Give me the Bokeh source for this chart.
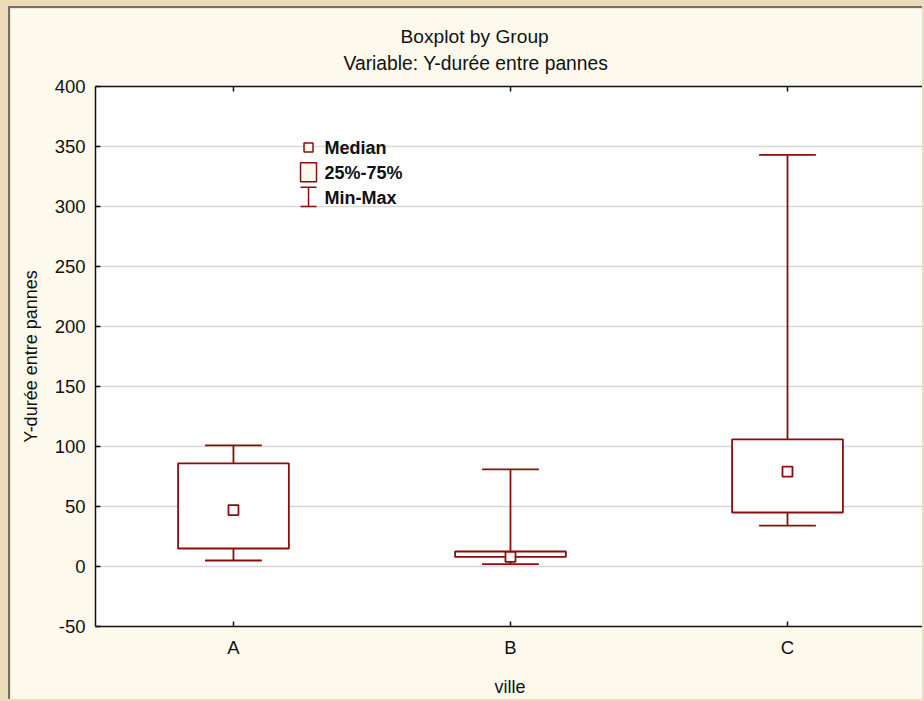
from bokeh.plotting import figure
from bokeh.models import Range1d, LinearAxis, FixedTicker, Title, GlobalInlineStyleSheet
from bokeh.core.properties import value
from bokeh.embed import file_html
from bokeh.resources import INLINE

# ---- data ----
groups = ["A", "B", "C"]
mins = [5, 2, 34]
q1s = [15, 8, 45]
medians = [47, 8, 79]
q3s = [86, 12.5, 106]
maxs = [101, 81, 343]
y_ticks = [-50, 0, 50, 100, 150, 200, 250, 300, 350, 400]
legend_labels = ["Median", "25%-75%", "Min-Max"]
title_text = "Boxplot by Group"
subtitle_text = "Variable: Y-durée entre pannes"

RED = "#8b0d0d"
CREAM = "#fdf9ec"
FONT = "Liberation Sans"

xpos = list(range(len(groups)))

p = figure(width=914, height=693, output_backend="svg", toolbar_location=None,
           x_range=Range1d(-0.498, 2.4946), y_range=Range1d(-50, 400),
           min_border_left=85, min_border_top=78, min_border_bottom=75, min_border_right=0,
           border_fill_color=CREAM, background_fill_color="white",
           outline_line_color=None,
           title=title_text)
p.styles = {"margin-left": "8px", "margin-top": "6px",
            "border-left": "2px solid #707070", "border-top": "2px solid #707070"}
p.stylesheets = [GlobalInlineStyleSheet(css="body{background:#ecdcb8;}")]

p.title.text_font = FONT
p.title.text_font_size = "19.2px"
p.title.text_font_style = "normal"
p.title.align = "left"
p.title.offset = 305
p.title.text_color = "#111111"
p.title.standoff = -18

# axes
p.xaxis.ticker = FixedTicker(ticks=xpos)
p.xaxis.major_label_overrides = {i: g for i, g in enumerate(groups)}
p.yaxis.ticker = FixedTicker(ticks=y_ticks)
p.yaxis.major_label_overrides = {t: str(t) for t in y_ticks}
for ax in [p.xaxis[0], p.yaxis[0]]:
    ax.major_tick_in = 5
    ax.major_tick_out = 0
    ax.minor_tick_line_color = None
    ax.major_tick_line_width = 1.5
    ax.major_tick_line_color = "#111111"
    ax.axis_line_color = "#111111"
    ax.axis_line_width = 1.5
    ax.major_label_text_font = FONT
    ax.major_label_text_font_size = "18.5px"
    ax.major_label_text_color = "#111111"
    ax.axis_label_text_font = FONT
    ax.axis_label_text_font_size = "18px"
    ax.axis_label_text_font_style = "normal"
    ax.axis_label_text_color = "#111111"
    ax.major_label_standoff = 10
p.xaxis.axis_label = "ville"
p.yaxis.axis_label = "Y-durée entre pannes"
p.xaxis.axis_label_standoff = 16
p.yaxis.axis_label_standoff = 11

top = LinearAxis(ticker=FixedTicker(ticks=xpos), major_tick_in=5, major_tick_out=0,
                 minor_tick_line_color=None, major_label_text_font_size="1px",
                 major_label_text_color=None,
                 major_label_standoff=0, axis_line_color="#111111", axis_line_width=1.5,
                 major_tick_line_width=1.5, major_tick_line_color="#111111")
p.add_layout(top, "above")
p.add_layout(Title(text=subtitle_text, align="left", offset=248, text_font=FONT,
                   text_font_size="19.3px", text_font_style="normal", text_color="#111111",
                   standoff=26), "above")

p.xgrid.grid_line_color = None
p.ygrid.grid_line_color = "#d8d8d8"
p.ygrid.grid_line_width = 1.5

# boxes
bw = 0.4
cw = 0.205
p.quad(left=[x - bw / 2 for x in xpos], right=[x + bw / 2 for x in xpos],
       bottom=q1s, top=q3s, fill_color="white", line_color=RED, line_width=1.8)
p.segment(x0=xpos, y0=q3s, x1=xpos, y1=maxs, line_color=RED, line_width=1.8)
p.segment(x0=xpos, y0=q1s, x1=xpos, y1=mins, line_color=RED, line_width=1.8)
p.segment(x0=[x - cw / 2 for x in xpos], y0=maxs, x1=[x + cw / 2 for x in xpos], y1=maxs,
          line_color=RED, line_width=1.8)
p.segment(x0=[x - cw / 2 for x in xpos], y0=mins, x1=[x + cw / 2 for x in xpos], y1=mins,
          line_color=RED, line_width=1.8)
p.scatter(x=xpos, y=medians, marker="square", size=10, fill_color="white",
          line_color=RED, line_width=1.8)

# legend (drawn in data space)
lx = 0.271
lw = 16 / 277
p.scatter(x=[lx], y=[349.2], marker="square", size=9, fill_color=CREAM,
          line_color=RED, line_width=1.5)
p.rect(x=[lx], y=[328.6], width=lw, height=15.8, fill_color=CREAM, line_color=RED, line_width=1.5)
p.segment(x0=[lx, lx - lw / 2, lx - lw / 2], y0=[300, 316, 300],
          x1=[lx, lx + lw / 2, lx + lw / 2], y1=[316, 316, 300], line_color=RED, line_width=1.5)
p.text(x=[0.3285] * 3, y=[348.8, 328.3, 307.0], text=legend_labels,
       text_font=value(FONT), text_font_size="18px", text_font_style="bold",
       text_baseline="middle", text_color="#111111")

open("out.html", "w").write(file_html(p, INLINE))
